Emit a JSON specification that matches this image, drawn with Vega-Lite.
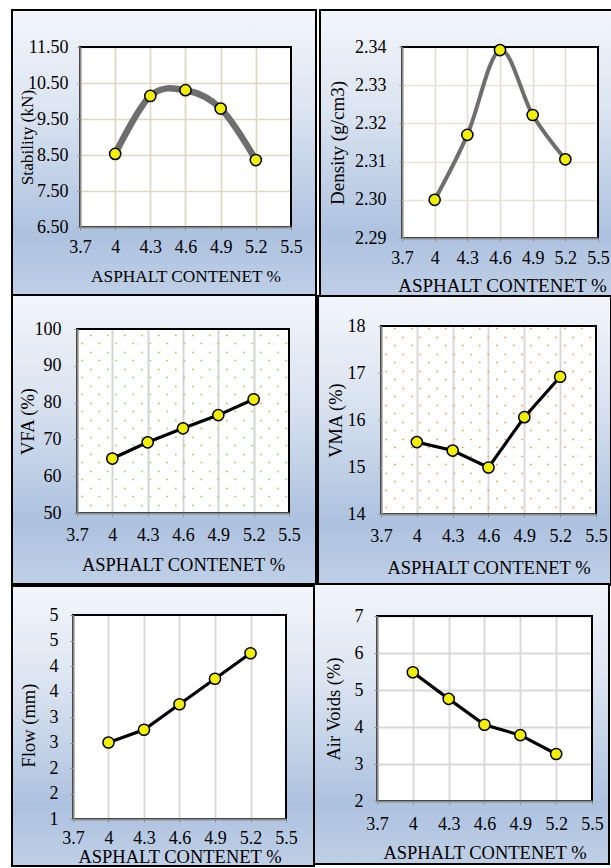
{
"$schema":"https://vega.github.io/schema/vega-lite/v6.json",
"background":"white",
"padding":{"left":10,"top":8,"right":0,"bottom":0},
"config":{"view":{"stroke":null},"font":"Liberation Serif",
 "axis":{"labelFontSize":18,"labelColor":"#000","titleFontWeight":"normal","titleColor":"#000","labelFlush":false,"labelOverlap":false,"domainColor":"#8c8c8c","domainWidth":2,"tickColor":"#8c8c8c","tickSize":3,"titleBaseline":"middle"},
 "circle":{"fill":"#f0ef00","stroke":"#000","strokeWidth":1.5,"size":125,"opacity":1}},
"spacing":-4,
"align":"none",
"columns":3,
"datasets":{
"stab":[{"pct":4,"v":8.53},{"pct":4.3,"v":10.14},{"pct":4.6,"v":10.30},{"pct":4.9,"v":9.79},{"pct":5.2,"v":8.36}],
"dens":[{"pct":4,"v":2.300},{"pct":4.3,"v":2.317},{"pct":4.6,"v":2.3392},{"pct":4.9,"v":2.3222},{"pct":5.2,"v":2.3106}],
"vfa":[{"pct":4,"v":64.8},{"pct":4.3,"v":69.2},{"pct":4.6,"v":73.0},{"pct":4.9,"v":76.6},{"pct":5.2,"v":80.9}],
"vma":[{"pct":4,"v":15.53},{"pct":4.3,"v":15.35},{"pct":4.6,"v":14.99},{"pct":4.9,"v":16.06},{"pct":5.2,"v":16.92}],
"flow":[{"pct":4,"v":2.5},{"pct":4.3,"v":2.75},{"pct":4.6,"v":3.25},{"pct":4.9,"v":3.75},{"pct":5.2,"v":4.25}],
"air":[{"pct":4,"v":5.48},{"pct":4.3,"v":4.76},{"pct":4.6,"v":4.06},{"pct":4.9,"v":3.78},{"pct":5.2,"v":3.27}]
},
"concat":[
{"width":1,"height":1,"data":{"values":[{}]},"mark":{"type":"point","opacity":0,"size":0,"strokeWidth":0}},
{"width":211,"height":180,
"layer":[
{"data":{"values":[{}]},"mark":{"type":"rect","fill":{"gradient":"linear","x1":0,"y1":0,"x2":0,"y2":1,"stops":[{"offset":0,"color":"#f3f6fb"},{"offset":0.35,"color":"#dbe4f1"},{"offset":0.78,"color":"#adc2df"},{"offset":1,"color":"#bfcfe6"}]}},
 "encoding":{"x":{"datum":3.1199,"type":"quantitative","axis":null},"x2":{"datum":3.7},"y":{"datum":4.5556,"type":"quantitative","axis":null},"y2":{"datum":12.5278}}},
{"data":{"values":[{}]},"mark":{"type":"rect","fill":{"gradient":"linear","x1":0,"y1":0,"x2":0,"y2":1,"stops":[{"offset":0,"color":"#f3f6fb"},{"offset":0.35,"color":"#dbe4f1"},{"offset":0.78,"color":"#adc2df"},{"offset":1,"color":"#bfcfe6"}]}},
 "encoding":{"x":{"datum":5.5,"type":"quantitative","axis":null},"x2":{"datum":5.7133},"y":{"datum":4.5556,"type":"quantitative","axis":null},"y2":{"datum":12.5278}}},
{"data":{"values":[{}]},"mark":{"type":"rect","fill":{"gradient":"linear","x1":0,"y1":0,"x2":0,"y2":7.757,"stops":[{"offset":0,"color":"#f3f6fb"},{"offset":0.35,"color":"#dbe4f1"},{"offset":0.78,"color":"#adc2df"},{"offset":1,"color":"#bfcfe6"}]}},
 "encoding":{"x":{"datum":3.1199,"type":"quantitative","axis":null},"x2":{"datum":5.7133},"y":{"datum":11.5,"type":"quantitative","axis":null},"y2":{"datum":12.5278}}},
{"data":{"values":[{}]},"mark":{"type":"rect","fill":{"gradient":"linear","x1":0,"y1":-3.1,"x2":0,"y2":1,"stops":[{"offset":0,"color":"#f3f6fb"},{"offset":0.35,"color":"#dbe4f1"},{"offset":0.78,"color":"#adc2df"},{"offset":1,"color":"#bfcfe6"}]}},
 "encoding":{"x":{"datum":3.1199,"type":"quantitative","axis":null},"x2":{"datum":5.7133},"y":{"datum":4.5556,"type":"quantitative","axis":null},"y2":{"datum":6.5}}},
{"data":{"values":[{}]},"mark":{"type":"rect","fill":null,"stroke":"#000","strokeWidth":2},
 "encoding":{"x":{"datum":3.1199,"type":"quantitative","axis":null},"x2":{"datum":5.7133},"y":{"datum":4.5556,"type":"quantitative","axis":null},"y2":{"datum":12.5278}}},
{"data":{"values":[{}]},"mark":{"type":"rect","fill":null,"stroke":"#000","strokeWidth":2},
 "encoding":{"x":{"datum":3.7,"type":"quantitative","axis":null},"x2":{"datum":5.5},"y":{"datum":6.5,"type":"quantitative","axis":null},"y2":{"datum":11.5}}},
{"data":{"name":"stab"},"mark":{"type":"line","color":"#6e6e6e","strokeWidth":6.5,"interpolate":"cardinal","tension":0},
 "encoding":{
  "x":{"field":"pct","type":"quantitative","scale":{"domain":[3.7,5.5],"nice":false,"zero":false},"axis":{"orient":"bottom","values":[3.7,4,4.3,4.6,4.9,5.2,5.5],"grid":true,"gridColor":"#ddd8c4","gridWidth":1.7,"domain":false,"ticks":false,"labels":false,"title":null,"zindex":0}},
  "y":{"field":"v","type":"quantitative","scale":{"domain":[6.5,11.5],"nice":false,"zero":false},"axis":{"orient":"left","values":[6.5,7.5,8.5,9.5,10.5,11.5],"grid":true,"gridColor":"#ddd8c4","gridWidth":1.7,"domain":false,"ticks":false,"labels":false,"title":null,"zindex":0}}}},
{"data":{"name":"stab"},"mark":{"type":"circle"},
 "encoding":{
  "x":{"field":"pct","type":"quantitative","scale":{"domain":[3.7,5.5],"nice":false,"zero":false},"axis":{"orient":"bottom","values":[3.7,4,4.3,4.6,4.9,5.2,5.5],"format":"~g","grid":false,"labelBaseline":"middle","labelPadding":17,"title":"ASPHALT CONTENET %","titleFontSize":17.3,"titleY":49,"zindex":1}},
  "y":{"field":"v","type":"quantitative","scale":{"domain":[6.5,11.5],"nice":false,"zero":false},"axis":{"orient":"left","values":[6.5,7.5,8.5,9.5,10.5,11.5],"format":".2f","grid":false,"labelPadding":9,"title":"Stability (kN)","titleFontSize":17.3,"titleX":-53,"zindex":1}}}}
],
"resolve":{"axis":{"x":"independent","y":"independent"}}},

{"width":196,"height":191,
"layer":[
{"data":{"values":[{}]},"mark":{"type":"rect","fill":{"gradient":"linear","x1":0,"y1":0,"x2":0,"y2":1,"stops":[{"offset":0,"color":"#f3f6fb"},{"offset":0.35,"color":"#dbe4f1"},{"offset":0.78,"color":"#adc2df"},{"offset":1,"color":"#bfcfe6"}]}},
 "encoding":{"x":{"datum":2.94694,"type":"quantitative","axis":null},"x2":{"datum":3.7},"y":{"datum":2.274555,"type":"quantitative","axis":null},"y2":{"datum":2.349686}}},
{"data":{"values":[{}]},"mark":{"type":"rect","fill":{"gradient":"linear","x1":0,"y1":0,"x2":0,"y2":1,"stops":[{"offset":0,"color":"#f3f6fb"},{"offset":0.35,"color":"#dbe4f1"},{"offset":0.78,"color":"#adc2df"},{"offset":1,"color":"#bfcfe6"}]}},
 "encoding":{"x":{"datum":5.5,"type":"quantitative","axis":null},"x2":{"datum":5.637755},"y":{"datum":2.274555,"type":"quantitative","axis":null},"y2":{"datum":2.349686}}},
{"data":{"values":[{}]},"mark":{"type":"rect","fill":{"gradient":"linear","x1":0,"y1":0,"x2":0,"y2":7.757,"stops":[{"offset":0,"color":"#f3f6fb"},{"offset":0.35,"color":"#dbe4f1"},{"offset":0.78,"color":"#adc2df"},{"offset":1,"color":"#bfcfe6"}]}},
 "encoding":{"x":{"datum":2.94694,"type":"quantitative","axis":null},"x2":{"datum":5.637755},"y":{"datum":2.34,"type":"quantitative","axis":null},"y2":{"datum":2.349686}}},
{"data":{"values":[{}]},"mark":{"type":"rect","fill":{"gradient":"linear","x1":0,"y1":-3.864,"x2":0,"y2":1,"stops":[{"offset":0,"color":"#f3f6fb"},{"offset":0.35,"color":"#dbe4f1"},{"offset":0.78,"color":"#adc2df"},{"offset":1,"color":"#bfcfe6"}]}},
 "encoding":{"x":{"datum":2.94694,"type":"quantitative","axis":null},"x2":{"datum":5.637755},"y":{"datum":2.274555,"type":"quantitative","axis":null},"y2":{"datum":2.29}}},
{"data":{"values":[{}]},"mark":{"type":"rect","fill":null,"stroke":"#000","strokeWidth":2},
 "encoding":{"x":{"datum":2.94694,"type":"quantitative","axis":null},"x2":{"datum":5.637755},"y":{"datum":2.274555,"type":"quantitative","axis":null},"y2":{"datum":2.349686}}},
{"data":{"values":[{}]},"mark":{"type":"rect","fill":null,"stroke":"#000","strokeWidth":2},
 "encoding":{"x":{"datum":3.7,"type":"quantitative","axis":null},"x2":{"datum":5.5},"y":{"datum":2.29,"type":"quantitative","axis":null},"y2":{"datum":2.34}}},
{"data":{"name":"dens"},"mark":{"type":"line","color":"#6e6e6e","strokeWidth":4,"interpolate":"cardinal","tension":0},
 "encoding":{
  "x":{"field":"pct","type":"quantitative","scale":{"domain":[3.7,5.5],"nice":false,"zero":false},"axis":{"orient":"bottom","values":[3.7,4,4.3,4.6,4.9,5.2,5.5],"grid":true,"gridColor":"#e2dfd5","gridWidth":1.7,"domain":false,"ticks":false,"labels":false,"title":null,"zindex":0}},
  "y":{"field":"v","type":"quantitative","scale":{"domain":[2.29,2.34],"nice":false,"zero":false},"axis":{"orient":"left","values":[2.29,2.3,2.31,2.32,2.33,2.34],"grid":true,"gridColor":"#e8e4d8","gridWidth":1.7,"domain":false,"ticks":false,"labels":false,"title":null,"zindex":0}}}},
{"data":{"name":"dens"},"mark":{"type":"circle"},
 "encoding":{
  "x":{"field":"pct","type":"quantitative","scale":{"domain":[3.7,5.5],"nice":false,"zero":false},"axis":{"orient":"bottom","values":[3.7,4,4.3,4.6,4.9,5.2,5.5],"format":"~g","grid":false,"labelBaseline":"middle","labelPadding":17,"title":"ASPHALT CONTENET %","titleFontSize":19,"titleY":47,"titleX":100,"zindex":1}},
  "y":{"field":"v","type":"quantitative","scale":{"domain":[2.29,2.34],"nice":false,"zero":false},"axis":{"orient":"left","values":[2.29,2.3,2.31,2.32,2.33,2.34],"format":".2f","grid":false,"labelPadding":13,"title":"Density (g/cm3)","titleFontSize":19,"titleX":-65,"zindex":1}}}}
],
"resolve":{"axis":{"x":"independent","y":"independent"}}},

{"width":1,"height":1,"data":{"values":[{}]},"mark":{"type":"point","opacity":0,"size":0,"strokeWidth":0}},
{"width":212,"height":184,
"layer":[
{"data":{"values":[{}]},"mark":{"type":"rect","fill":{"gradient":"linear","x1":0,"y1":0,"x2":0,"y2":1,"stops":[{"offset":0,"color":"#f3f6fb"},{"offset":0.35,"color":"#dbe4f1"},{"offset":0.78,"color":"#adc2df"},{"offset":1,"color":"#bfcfe6"}]}},
 "encoding":{"x":{"datum":3.148113,"type":"quantitative","axis":null},"x2":{"datum":3.7},"y":{"datum":30.70652,"type":"quantitative","axis":null},"y2":{"datum":109.23913}}},
{"data":{"values":[{}]},"mark":{"type":"rect","fill":{"gradient":"linear","x1":0,"y1":0,"x2":0,"y2":1,"stops":[{"offset":0,"color":"#f3f6fb"},{"offset":0.35,"color":"#dbe4f1"},{"offset":0.78,"color":"#adc2df"},{"offset":1,"color":"#bfcfe6"}]}},
 "encoding":{"x":{"datum":5.5,"type":"quantitative","axis":null},"x2":{"datum":5.729245},"y":{"datum":30.70652,"type":"quantitative","axis":null},"y2":{"datum":109.23913}}},
{"data":{"values":[{}]},"mark":{"type":"rect","fill":{"gradient":"linear","x1":0,"y1":0,"x2":0,"y2":8.5,"stops":[{"offset":0,"color":"#f3f6fb"},{"offset":0.35,"color":"#dbe4f1"},{"offset":0.78,"color":"#adc2df"},{"offset":1,"color":"#bfcfe6"}]}},
 "encoding":{"x":{"datum":3.148113,"type":"quantitative","axis":null},"x2":{"datum":5.729245},"y":{"datum":100,"type":"quantitative","axis":null},"y2":{"datum":109.23913}}},
{"data":{"values":[{}]},"mark":{"type":"rect","fill":{"gradient":"linear","x1":0,"y1":-3.07,"x2":0,"y2":1,"stops":[{"offset":0,"color":"#f3f6fb"},{"offset":0.35,"color":"#dbe4f1"},{"offset":0.78,"color":"#adc2df"},{"offset":1,"color":"#bfcfe6"}]}},
 "encoding":{"x":{"datum":3.148113,"type":"quantitative","axis":null},"x2":{"datum":5.729245},"y":{"datum":30.70652,"type":"quantitative","axis":null},"y2":{"datum":50}}},
{"data":{"values":[{}]},"mark":{"type":"rect","fill":null,"stroke":"#000","strokeWidth":2},
 "encoding":{"x":{"datum":3.148113,"type":"quantitative","axis":null},"x2":{"datum":5.729245},"y":{"datum":30.70652,"type":"quantitative","axis":null},"y2":{"datum":109.23913}}},
{"data":{"values":[{}]},"mark":{"type":"rect","fill":null,"stroke":"#000","strokeWidth":2},
 "encoding":{"x":{"datum":3.7,"type":"quantitative","axis":null},"x2":{"datum":5.5},"y":{"datum":50,"type":"quantitative","axis":{"orient":"left","values":[96.19,91.57,86.95,82.33,77.71,73.09,68.47,63.85,59.23,54.61],"grid":true,"gridColor":"#92d050","gridWidth":1.6,"gridDash":[1.6,15.4],"gridDashOffset":-4,"domain":false,"ticks":false,"labels":false,"title":null,"zindex":0}},"y2":{"datum":100}}},
{"data":{"name":"vfa"},"mark":{"type":"line","color":"#000","strokeWidth":3.2},
 "encoding":{
  "x":{"field":"pct","type":"quantitative","scale":{"domain":[3.7,5.5],"nice":false,"zero":false},"axis":{"orient":"bottom","values":[3.7,4,4.3,4.6,4.9,5.2,5.5],"grid":true,"gridColor":"#d4d4d4","gridWidth":2,"domain":false,"ticks":false,"labels":false,"title":null,"zindex":0}},
  "y":{"field":"v","type":"quantitative","scale":{"domain":[50,100],"nice":false,"zero":false},"axis":{"orient":"left","values":[98.5,93.88,89.26,84.64,80.02,75.4,70.78,66.16,61.54,56.92,52.3],"grid":true,"gridColor":"#92d050","gridWidth":1.6,"gridDash":[1.6,15.4],"gridDashOffset":-12.5,"domain":false,"ticks":false,"labels":false,"title":null,"zindex":0}}}},
{"data":{"name":"vfa"},"mark":{"type":"circle"},
 "encoding":{
  "x":{"field":"pct","type":"quantitative","scale":{"domain":[3.7,5.5],"nice":false,"zero":false},"axis":{"orient":"bottom","values":[3.7,4,4.3,4.6,4.9,5.2,5.5],"format":"~g","grid":false,"labelBaseline":"middle","labelPadding":19,"title":"ASPHALT CONTENET %","titleFontSize":18.5,"titleY":51,"zindex":1}},
  "y":{"field":"v","type":"quantitative","scale":{"domain":[50,100],"nice":false,"zero":false},"axis":{"orient":"left","values":[50,60,70,80,90,100],"format":"d","grid":false,"labelPadding":13,"title":"VFA (%)","titleFontSize":18.5,"titleX":-50,"zindex":1}}}}
],
"resolve":{"axis":{"x":"independent","y":"independent"}}},

{"width":215,"height":188,
"layer":[
{"data":{"values":[{}]},"mark":{"type":"rect","fill":{"gradient":"linear","x1":0,"y1":0,"x2":0,"y2":1,"stops":[{"offset":0,"color":"#f3f6fb"},{"offset":0.35,"color":"#dbe4f1"},{"offset":0.78,"color":"#adc2df"},{"offset":1,"color":"#bfcfe6"}]}},
 "encoding":{"x":{"datum":3.172558,"type":"quantitative","axis":null},"x2":{"datum":3.7},"y":{"datum":12.489362,"type":"quantitative","axis":null},"y2":{"datum":18.638298}}},
{"data":{"values":[{}]},"mark":{"type":"rect","fill":{"gradient":"linear","x1":0,"y1":0,"x2":0,"y2":1,"stops":[{"offset":0,"color":"#f3f6fb"},{"offset":0.35,"color":"#dbe4f1"},{"offset":0.78,"color":"#adc2df"},{"offset":1,"color":"#bfcfe6"}]}},
 "encoding":{"x":{"datum":5.5,"type":"quantitative","axis":null},"x2":{"datum":5.625581},"y":{"datum":12.489362,"type":"quantitative","axis":null},"y2":{"datum":18.638298}}},
{"data":{"values":[{}]},"mark":{"type":"rect","fill":{"gradient":"linear","x1":0,"y1":0,"x2":0,"y2":9.633,"stops":[{"offset":0,"color":"#f3f6fb"},{"offset":0.35,"color":"#dbe4f1"},{"offset":0.78,"color":"#adc2df"},{"offset":1,"color":"#bfcfe6"}]}},
 "encoding":{"x":{"datum":3.172558,"type":"quantitative","axis":null},"x2":{"datum":5.625581},"y":{"datum":18,"type":"quantitative","axis":null},"y2":{"datum":18.638298}}},
{"data":{"values":[{}]},"mark":{"type":"rect","fill":{"gradient":"linear","x1":0,"y1":-3.07,"x2":0,"y2":1,"stops":[{"offset":0,"color":"#f3f6fb"},{"offset":0.35,"color":"#dbe4f1"},{"offset":0.78,"color":"#adc2df"},{"offset":1,"color":"#bfcfe6"}]}},
 "encoding":{"x":{"datum":3.172558,"type":"quantitative","axis":null},"x2":{"datum":5.625581},"y":{"datum":12.489362,"type":"quantitative","axis":null},"y2":{"datum":14}}},
{"data":{"values":[{}]},"mark":{"type":"rect","fill":null,"stroke":"#000","strokeWidth":2},
 "encoding":{"x":{"datum":3.172558,"type":"quantitative","axis":null},"x2":{"datum":5.625581},"y":{"datum":12.489362,"type":"quantitative","axis":null},"y2":{"datum":18.638298}}},
{"data":{"values":[{}]},"mark":{"type":"rect","fill":null,"stroke":"#000","strokeWidth":2},
 "encoding":{"x":{"datum":3.7,"type":"quantitative","axis":null},"x2":{"datum":5.5},"y":{"datum":14,"type":"quantitative","axis":{"orient":"left","values":[17.769,17.407,17.046,16.684,16.322,15.961,15.599,15.237,14.876,14.514,14.152],"grid":true,"gridColor":"#f79646","gridWidth":1.6,"gridDash":[1.6,15.4],"gridDashOffset":-4,"domain":false,"ticks":false,"labels":false,"title":null,"zindex":0}},"y2":{"datum":18}}},
{"data":{"name":"vma"},"mark":{"type":"line","color":"#000","strokeWidth":3.2},
 "encoding":{
  "x":{"field":"pct","type":"quantitative","scale":{"domain":[3.7,5.5],"nice":false,"zero":false},"axis":{"orient":"bottom","values":[3.7,4,4.3,4.6,4.9,5.2,5.5],"grid":true,"gridColor":"#d9d9d9","gridWidth":2,"domain":false,"ticks":false,"labels":false,"title":null,"zindex":0}},
  "y":{"field":"v","type":"quantitative","scale":{"domain":[14,18],"nice":false,"zero":false},"axis":{"orient":"left","values":[17.95,17.588,17.227,16.865,16.503,16.142,15.78,15.418,15.057,14.695,14.333],"grid":true,"gridColor":"#f79646","gridWidth":1.6,"gridDash":[1.6,15.4],"gridDashOffset":-12.5,"domain":false,"ticks":false,"labels":false,"title":null,"zindex":0}}}},
{"data":{"name":"vma"},"mark":{"type":"circle"},
 "encoding":{
  "x":{"field":"pct","type":"quantitative","scale":{"domain":[3.7,5.5],"nice":false,"zero":false},"axis":{"orient":"bottom","values":[3.7,4,4.3,4.6,4.9,5.2,5.5],"format":"~g","grid":false,"labelBaseline":"middle","labelPadding":19,"title":"ASPHALT CONTENET %","titleFontSize":18.5,"titleY":53,"zindex":1}},
  "y":{"field":"v","type":"quantitative","scale":{"domain":[14,18],"nice":false,"zero":false},"axis":{"orient":"left","values":[14,15,16,17,18],"format":"d","grid":false,"labelPadding":13,"title":"VMA (%)","titleFontSize":18.5,"titleX":-46,"zindex":1}}}}
],
"resolve":{"axis":{"x":"independent","y":"independent"}}},

{"width":1,"height":1,"data":{"values":[{}]},"mark":{"type":"point","opacity":0,"size":0,"strokeWidth":0}},
{"width":213,"height":204,
"layer":[
{"data":{"values":[{}]},"mark":{"type":"rect","fill":{"gradient":"linear","x1":0,"y1":0,"x2":0,"y2":1,"stops":[{"offset":0,"color":"#f3f6fb"},{"offset":0.35,"color":"#dbe4f1"},{"offset":0.78,"color":"#adc2df"},{"offset":1,"color":"#bfcfe6"}]}},
 "encoding":{"x":{"datum":3.184507,"type":"quantitative","axis":null},"x2":{"datum":3.7},"y":{"datum":0.078431,"type":"quantitative","axis":null},"y2":{"datum":5.568627}}},
{"data":{"values":[{}]},"mark":{"type":"rect","fill":{"gradient":"linear","x1":0,"y1":0,"x2":0,"y2":1,"stops":[{"offset":0,"color":"#f3f6fb"},{"offset":0.35,"color":"#dbe4f1"},{"offset":0.78,"color":"#adc2df"},{"offset":1,"color":"#bfcfe6"}]}},
 "encoding":{"x":{"datum":5.5,"type":"quantitative","axis":null},"x2":{"datum":5.73662},"y":{"datum":0.078431,"type":"quantitative","axis":null},"y2":{"datum":5.568627}}},
{"data":{"values":[{}]},"mark":{"type":"rect","fill":{"gradient":"linear","x1":0,"y1":0,"x2":0,"y2":9.655,"stops":[{"offset":0,"color":"#f3f6fb"},{"offset":0.35,"color":"#dbe4f1"},{"offset":0.78,"color":"#adc2df"},{"offset":1,"color":"#bfcfe6"}]}},
 "encoding":{"x":{"datum":3.184507,"type":"quantitative","axis":null},"x2":{"datum":5.73662},"y":{"datum":5,"type":"quantitative","axis":null},"y2":{"datum":5.568627}}},
{"data":{"values":[{}]},"mark":{"type":"rect","fill":{"gradient":"linear","x1":0,"y1":-4.957,"x2":0,"y2":1,"stops":[{"offset":0,"color":"#f3f6fb"},{"offset":0.35,"color":"#dbe4f1"},{"offset":0.78,"color":"#adc2df"},{"offset":1,"color":"#bfcfe6"}]}},
 "encoding":{"x":{"datum":3.184507,"type":"quantitative","axis":null},"x2":{"datum":5.73662},"y":{"datum":0.078431,"type":"quantitative","axis":null},"y2":{"datum":1}}},
{"data":{"values":[{}]},"mark":{"type":"rect","fill":null,"stroke":"#000","strokeWidth":2},
 "encoding":{"x":{"datum":3.184507,"type":"quantitative","axis":null},"x2":{"datum":5.73662},"y":{"datum":0.078431,"type":"quantitative","axis":null},"y2":{"datum":5.568627}}},
{"data":{"values":[{}]},"mark":{"type":"rect","fill":null,"stroke":"#000","strokeWidth":2},
 "encoding":{"x":{"datum":3.7,"type":"quantitative","axis":null},"x2":{"datum":5.5},"y":{"datum":1,"type":"quantitative","axis":null},"y2":{"datum":5}}},
{"data":{"name":"flow"},"mark":{"type":"line","color":"#000","strokeWidth":3.2},
 "encoding":{
  "x":{"field":"pct","type":"quantitative","scale":{"domain":[3.7,5.5],"nice":false,"zero":false},"axis":{"orient":"bottom","values":[3.7,4,4.3,4.6,4.9,5.2,5.5],"grid":true,"gridColor":"#d9d9d9","gridWidth":2,"domain":false,"ticks":false,"labels":false,"title":null,"zindex":0}},
  "y":{"field":"v","type":"quantitative","scale":{"domain":[1,5],"nice":false,"zero":false},"axis":null}}},
{"data":{"name":"flow"},"mark":{"type":"circle"},
 "encoding":{
  "x":{"field":"pct","type":"quantitative","scale":{"domain":[3.7,5.5],"nice":false,"zero":false},"axis":{"orient":"bottom","values":[3.7,4,4.3,4.6,4.9,5.2,5.5],"format":"~g","grid":false,"labelBaseline":"middle","labelPadding":16,"title":"ASPHALT CONTENET %","titleFontSize":18.5,"titleY":37,"zindex":1}},
  "y":{"field":"v","type":"quantitative","scale":{"domain":[1,5],"nice":false,"zero":false},"axis":{"orient":"left","values":[1,1.5,2,2.5,3,3.5,4,4.5,5],"format":".0f","grid":false,"labelPadding":12,"title":"Flow (mm)","titleFontSize":18.5,"titleX":-45,"titleY":110,"zindex":1}}}}
],
"resolve":{"axis":{"x":"independent","y":"independent"}}},

{"width":215,"height":185,
"layer":[
{"data":{"values":[{}]},"mark":{"type":"rect","fill":{"gradient":"linear","x1":0,"y1":0,"x2":0,"y2":1,"stops":[{"offset":0,"color":"#f3f6fb"},{"offset":0.35,"color":"#dbe4f1"},{"offset":0.78,"color":"#adc2df"},{"offset":1,"color":"#bfcfe6"}]}},
 "encoding":{"x":{"datum":3.172558,"type":"quantitative","axis":null},"x2":{"datum":3.7},"y":{"datum":0.297297,"type":"quantitative","axis":null},"y2":{"datum":7.864865}}},
{"data":{"values":[{}]},"mark":{"type":"rect","fill":{"gradient":"linear","x1":0,"y1":0,"x2":0,"y2":1,"stops":[{"offset":0,"color":"#f3f6fb"},{"offset":0.35,"color":"#dbe4f1"},{"offset":0.78,"color":"#adc2df"},{"offset":1,"color":"#bfcfe6"}]}},
 "encoding":{"x":{"datum":5.5,"type":"quantitative","axis":null},"x2":{"datum":5.642326},"y":{"datum":0.297297,"type":"quantitative","axis":null},"y2":{"datum":7.864865}}},
{"data":{"values":[{}]},"mark":{"type":"rect","fill":{"gradient":"linear","x1":0,"y1":0,"x2":0,"y2":8.75,"stops":[{"offset":0,"color":"#f3f6fb"},{"offset":0.35,"color":"#dbe4f1"},{"offset":0.78,"color":"#adc2df"},{"offset":1,"color":"#bfcfe6"}]}},
 "encoding":{"x":{"datum":3.172558,"type":"quantitative","axis":null},"x2":{"datum":5.642326},"y":{"datum":7,"type":"quantitative","axis":null},"y2":{"datum":7.864865}}},
{"data":{"values":[{}]},"mark":{"type":"rect","fill":{"gradient":"linear","x1":0,"y1":-3.444,"x2":0,"y2":1,"stops":[{"offset":0,"color":"#f3f6fb"},{"offset":0.35,"color":"#dbe4f1"},{"offset":0.78,"color":"#adc2df"},{"offset":1,"color":"#bfcfe6"}]}},
 "encoding":{"x":{"datum":3.172558,"type":"quantitative","axis":null},"x2":{"datum":5.642326},"y":{"datum":0.297297,"type":"quantitative","axis":null},"y2":{"datum":2}}},
{"data":{"values":[{}]},"mark":{"type":"rect","fill":null,"stroke":"#000","strokeWidth":2},
 "encoding":{"x":{"datum":3.172558,"type":"quantitative","axis":null},"x2":{"datum":5.642326},"y":{"datum":0.297297,"type":"quantitative","axis":null},"y2":{"datum":7.864865}}},
{"data":{"values":[{}]},"mark":{"type":"rect","fill":null,"stroke":"#000","strokeWidth":2},
 "encoding":{"x":{"datum":3.7,"type":"quantitative","axis":null},"x2":{"datum":5.5},"y":{"datum":2,"type":"quantitative","axis":null},"y2":{"datum":7}}},
{"data":{"name":"air"},"mark":{"type":"line","color":"#000","strokeWidth":3.2},
 "encoding":{
  "x":{"field":"pct","type":"quantitative","scale":{"domain":[3.7,5.5],"nice":false,"zero":false},"axis":{"orient":"bottom","values":[3.7,4,4.3,4.6,4.9,5.2,5.5],"grid":true,"gridColor":"#d9d9d9","gridWidth":2,"domain":false,"ticks":false,"labels":false,"title":null,"zindex":0}},
  "y":{"field":"v","type":"quantitative","scale":{"domain":[2,7],"nice":false,"zero":false},"axis":{"orient":"left","values":[2,3,4,5,6,7],"grid":true,"gridColor":"#d9d9d9","gridWidth":2,"domain":false,"ticks":false,"labels":false,"title":null,"zindex":0}}}},
{"data":{"name":"air"},"mark":{"type":"circle"},
 "encoding":{
  "x":{"field":"pct","type":"quantitative","scale":{"domain":[3.7,5.5],"nice":false,"zero":false},"axis":{"orient":"bottom","values":[3.7,4,4.3,4.6,4.9,5.2,5.5],"format":"~g","grid":false,"labelBaseline":"middle","labelPadding":20,"title":"ASPHALT CONTENET %","titleFontSize":18.5,"titleY":51,"zindex":1}},
  "y":{"field":"v","type":"quantitative","scale":{"domain":[2,7],"nice":false,"zero":false},"axis":{"orient":"left","values":[2,3,4,5,6,7],"format":"d","grid":false,"labelPadding":11,"title":"Air Voids (%)","titleFontSize":18.5,"titleX":-44,"zindex":1}}}}
],
"resolve":{"axis":{"x":"independent","y":"independent"}}}
]
}
